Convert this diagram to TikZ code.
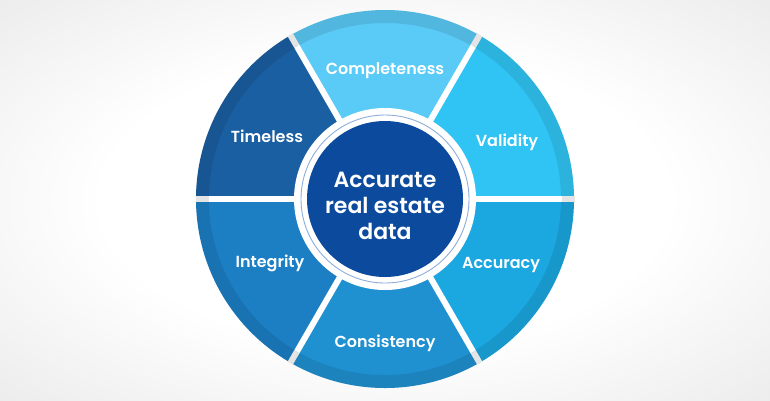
\documentclass[tikz,border=0pt]{standalone}
\usepackage{fontspec}
\setmainfont{Poppins}[BoldFont={Poppins SemiBold}]
\definecolor{bggray}{HTML}{DADADB}
\definecolor{cValid}{HTML}{30C4F4}
\definecolor{cCompl}{HTML}{5ACAF6}
\definecolor{cTime}{HTML}{1A5FA2}
\definecolor{cInteg}{HTML}{1C7FC4}
\definecolor{cCons}{HTML}{1F91D0}
\definecolor{cAccu}{HTML}{1BA7E0}
\definecolor{cInner}{HTML}{0C4A9E}
\definecolor{ringblue}{HTML}{8DAEDC}
\definecolor{gapgray}{HTML}{E4E4E5}
\pgfdeclareradialshading{bgshade}{\pgfpoint{0bp}{0bp}}{color(0bp)=(white); color(14bp)=(white); color(40bp)=(bggray); color(50bp)=(bggray)}
\tikzset{
  lbl/.style={text=white, font=\fontsize{16}{19}\selectfont\bfseries, inner sep=0pt},
  ctr/.style={text=white, font=\fontsize{22}{26}\selectfont\bfseries, align=center, inner sep=0pt},
  divider/.style={white, line width=6},
  bandgap/.style={gapgray, line width=6}
}
\begin{document}
\begin{tikzpicture}[x=1pt,y=-1pt]
\useasboundingbox (0,0) rectangle (770,400);
\shade[shading=bgshade] (-120,-60) rectangle (890,460);
\begin{scope}[shift={(385,199)}, yscale=-1]
  \fill[cValid] (0,0) -- (0:189) arc[start angle=0,end angle=60,radius=189] -- cycle;
  \fill[cCompl] (0,0) -- (60:189) arc[start angle=60,end angle=120,radius=189] -- cycle;
  \fill[cTime]  (0,0) -- (120:189) arc[start angle=120,end angle=180,radius=189] -- cycle;
  \fill[cInteg] (0,0) -- (180:189) arc[start angle=180,end angle=240,radius=189] -- cycle;
  \fill[cCons]  (0,0) -- (240:189) arc[start angle=240,end angle=300,radius=189] -- cycle;
  \fill[cAccu]  (0,0) -- (300:189) arc[start angle=300,end angle=360,radius=189] -- cycle;
  \fill[black, opacity=0.09, even odd rule] (0,0) circle (189) (0,0) circle (176);
  \foreach \a in {0,60,...,300} {
    \draw[divider] (\a:80) -- (\a:176.5);
    \draw[bandgap] (\a:176.5) -- (\a:189.5);
  }
  \fill[white] (0,0) circle (91);
  \draw[ringblue, line width=0.9] (0,0) circle (84);
  \fill[cInner] (0,0) circle (78);
\end{scope}
\node[lbl, anchor=base] (compl) at (385,74) {Completeness};
\node[lbl, anchor=base] (valid) at (507,146) {Validity};
\node[lbl, anchor=base] (accu)  at (501,268) {Accuracy};
\node[lbl, anchor=base] (cons)  at (385,347) {Consistency};
\node[lbl, anchor=base] (integ) at (270,267) {Integrity};
\node[lbl, anchor=base] (time)  at (267,142) {Timeless};
\node[ctr] (center) at (385,206) {Accurate\\real estate\\data};
\end{tikzpicture}
\end{document}
